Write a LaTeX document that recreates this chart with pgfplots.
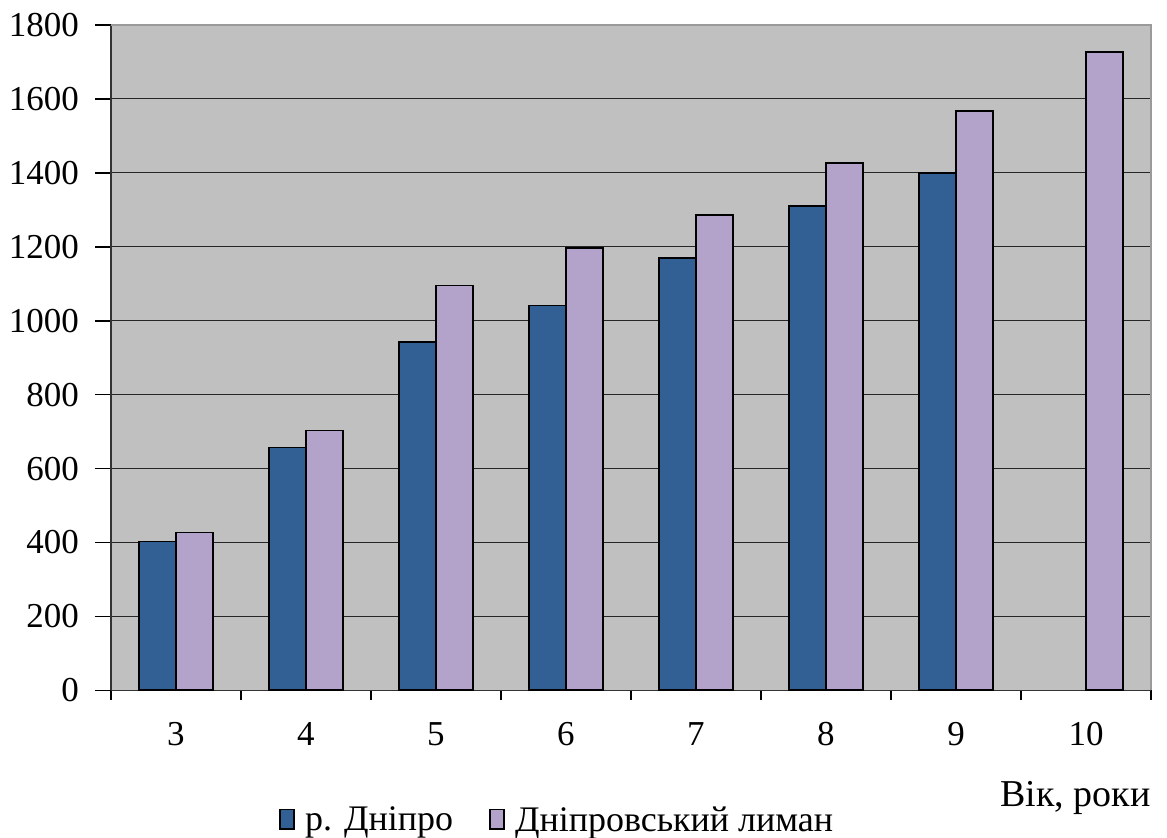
\documentclass[border=0pt]{standalone}
\usepackage{fontspec}
\setmainfont{Liberation Serif}
\usepackage{pgfplots}
\pgfplotsset{compat=1.18}
\definecolor{dblue}{HTML}{336094}
\definecolor{lpurp}{HTML}{B3A3CA}
\definecolor{bg}{HTML}{C0C0C0}
\begin{document}
\fontsize{17.5}{21}\selectfont
\begin{tikzpicture}
\path[use as bounding box] (0,0) rectangle (584pt,419pt);
\begin{axis}[
  at={(55.5pt,73.5pt)}, anchor=south west,
  scale only axis, width=520.5pt, height=333pt,
  xmin=2.5, xmax=10.5, ymin=0, ymax=1800,
  ytick={0,200,...,1800},
  xtick={3,...,10},
  minor xtick={2.5,3.5,...,10.5},
  major x tick style={draw=none},
  x tick style={black, line width=0.8pt},
  minor x tick style={black, line width=0.8pt},
  y tick style={black, line width=0.8pt},
  tick align=outside,
  major tick length=8pt, minor tick length=5pt,
  ymajorgrids, grid style={black!85, line width=0.6pt},
  axis background/.style={fill=bg},
  axis x line*=bottom, axis y line*=left,
  axis line style={black!80, line width=0.8pt},
  /pgf/number format/assume math mode=true,
  /pgf/number format/1000 sep={},
  yticklabel style={font=\fontsize{17.5}{21}\selectfont, xshift=-2pt},
  xticklabel style={font=\fontsize{17.5}{21}\selectfont, yshift=-2pt},
  ybar, bar width=18.5pt,
  legend style={draw=none, fill=none, at={(0.43,-0.197)}, anchor=center,
     legend columns=2, font=\fontsize{18}{22}\selectfont,
     /tikz/every odd column/.append style={column sep=3pt},
     /tikz/every even column/.append style={column sep=16pt}},
  legend image code/.code={\draw[#1, line width=1pt] (0pt,-4pt) rectangle (7pt,6pt);},
  clip=false,
]
\addplot[draw=black, line width=0.9pt, fill=dblue, bar shift=-9.25pt] coordinates {
 (3,403) (4,657) (5,943) (6,1041) (7,1170) (8,1311) (9,1400)};
\addplot[draw=black, line width=0.9pt, fill=lpurp, bar shift=9.25pt] coordinates {
 (3,427) (4,703) (5,1095) (6,1197) (7,1286) (8,1427) (9,1568) (10,1727)};
\legend{р. Дніпро, Дніпровський лиман}
\draw[bg!80!black, line width=0.8pt] (rel axis cs:0,1) -- (rel axis cs:1,1) -- (rel axis cs:1,0);
\node[anchor=east, inner sep=0pt, font=\fontsize{19}{22}\selectfont] at (rel axis cs:1,-0.162) {Вік, роки};
\end{axis}
\end{tikzpicture}
\end{document}
